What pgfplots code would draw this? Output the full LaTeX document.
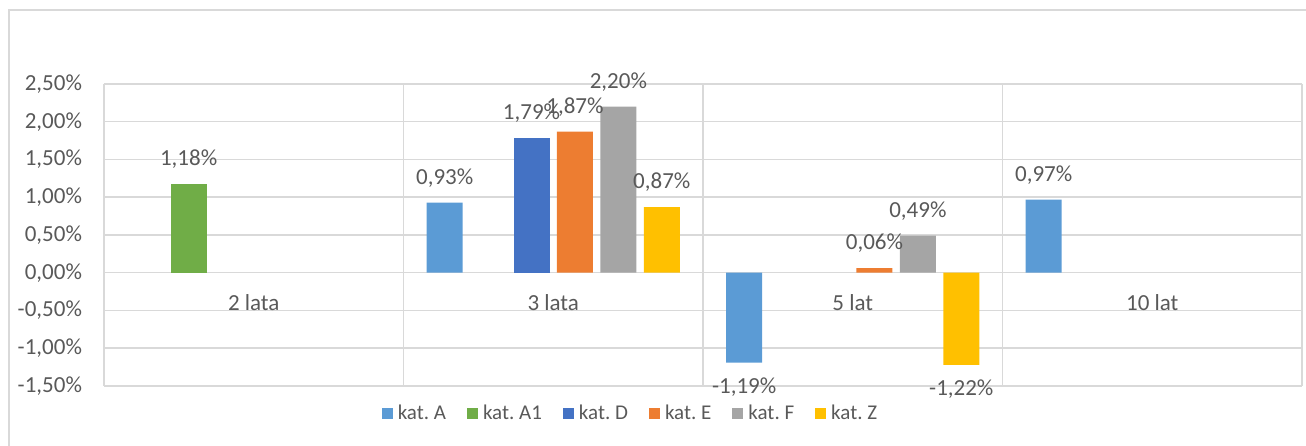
\documentclass[border=0pt]{standalone}
\usepackage{fontspec}
\setmainfont{Carlito}
\usepackage{pgfplots}
\pgfplotsset{compat=1.18}
\usetikzlibrary{calc}

\definecolor{txt}{HTML}{595959}
\definecolor{gridc}{HTML}{D9D9D9}
\definecolor{cA}{HTML}{5B9BD5}
\definecolor{cAone}{HTML}{70AD47}
\definecolor{cD}{HTML}{4472C4}
\definecolor{cE}{HTML}{ED7D31}
\definecolor{cF}{HTML}{A5A5A5}
\definecolor{cZ}{HTML}{FFC000}

\begin{document}
\frenchspacing
\begin{tikzpicture}[font=\fontsize{11.5}{13}\selectfont]
\begin{axis}[
  name=ax,
  scale only axis,
  width=599pt, height=151pt,
  xmin=0, xmax=24,
  ymin=-1.5, ymax=2.5,
  xtick={0,6,12,18,24}, xticklabels={},
  ytick={-1.5,-1,...,2.5},
  yticklabel={\pgfmathprintnumber[fixed,fixed zerofill,precision=2,use comma]{\tick}\%},
  /pgf/number format/assume math mode=true,
  yticklabel style={text=txt, xshift=-7.5pt},
  major tick length=0pt,
  axis line style={draw=none},
  xmajorgrids, ymajorgrids,
  grid style={gridc, line width=0.75pt},
  clip=false,
  ybar, bar shift=0pt, bar width=0.72,
  nodes near coords={\pgfmathprintnumber[fixed,fixed zerofill,precision=2,use comma]{\pgfplotspointmeta}\%},
  every node near coord/.append style={text=txt, inner ysep=7.5pt, inner xsep=0pt},
  legend columns=-1,
  legend style={draw=none, fill=none, text=txt, at={(0.4407,-0.0927)}, anchor=center,
    font=\fontsize{10.5}{12}\selectfont,
    /tikz/every even column/.append style={column sep=8pt},
    nodes={inner xsep=2.5pt}},
  legend image code/.code={\fill[#1] (0pt,-2.75pt) rectangle (5.5pt,2.75pt);},
]
\addplot[fill=cA, draw=none] coordinates {(6.825,0.93) (12.825,-1.19) (18.825,0.97)};
\addlegendentry{kat. A}
\addplot[fill=cAone, draw=none] coordinates {(1.695,1.18)};
\addlegendentry{kat. A1}
\addplot[fill=cD, draw=none] coordinates {(8.565,1.79)};
\addlegendentry{kat. D}
\addplot[fill=cE, draw=none] coordinates {(9.435,1.87) (15.435,0.06)};
\addlegendentry{kat. E}
\addplot[fill=cF, draw=none] coordinates {(10.305,2.20) (16.305,0.49)};
\addlegendentry{kat. F}
\addplot[fill=cZ, draw=none] coordinates {(11.175,0.87) (17.175,-1.22)};
\addlegendentry{kat. Z}

\node[anchor=base, text=txt, yshift=-19pt] at (axis cs:3,0) {2 lata};
\node[anchor=base, text=txt, yshift=-19pt] at (axis cs:9,0) {3 lata};
\node[anchor=base, text=txt, yshift=-19pt] at (axis cs:15,0) {5 lat};
\node[anchor=base, text=txt, yshift=-19pt] at (axis cs:21,0) {10 lat};
\end{axis}
\draw[gridc, line width=0.75pt] ($(ax.south west)+(-47.5pt,-40pt)$) rectangle ($(ax.north east)+(10pt,37pt)$);
\pgfresetboundingbox
\path ($(ax.south west)+(-52pt,-30pt)$) rectangle ($(ax.north east)+(2pt,42pt)$);
\end{tikzpicture}
\end{document}
